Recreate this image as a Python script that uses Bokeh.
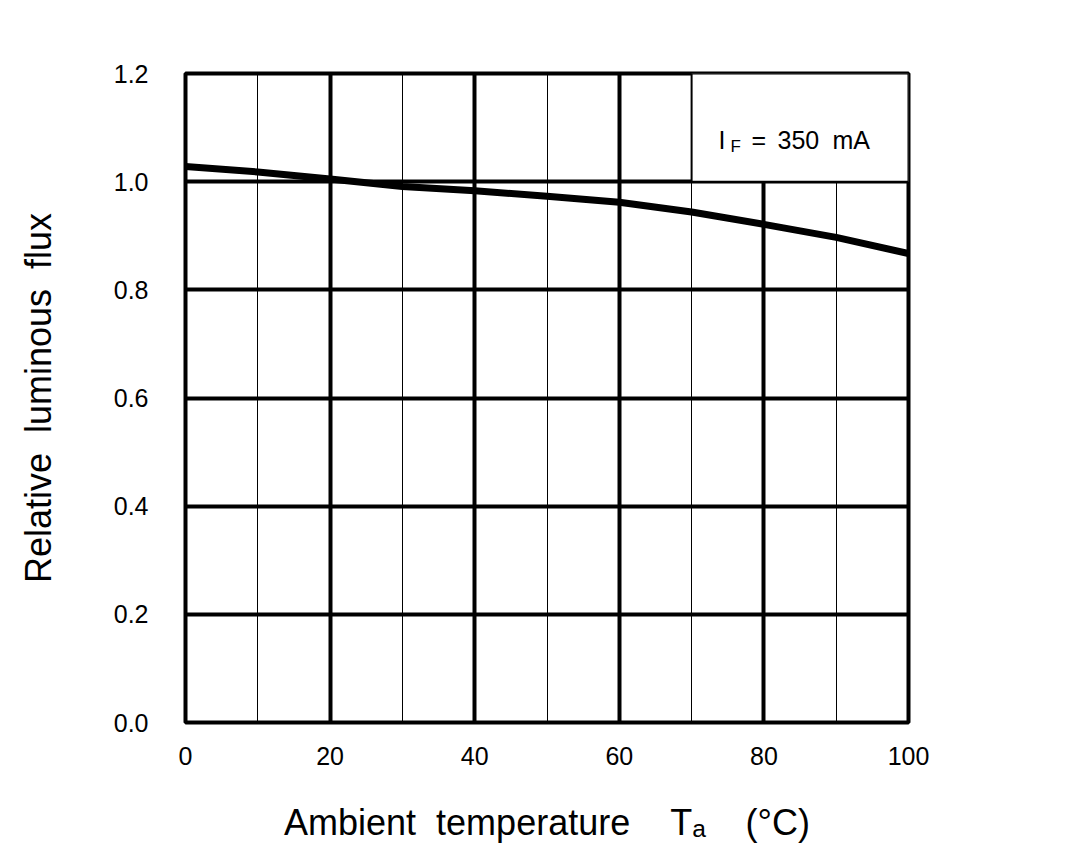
import math
from bokeh.plotting import figure
from bokeh.models import Range1d, FixedTicker, Label, CustomJSTickFormatter
from bokeh.embed import file_html
from bokeh.resources import INLINE

temps = [0, 10, 20, 30, 40, 50, 60, 70, 80, 90, 100]
flux = [1.028, 1.018, 1.005, 0.991, 0.983, 0.973, 0.962, 0.944, 0.921, 0.897, 0.867]
x_ticks = [0, 20, 40, 60, 80, 100]
x_minor = [10, 30, 50, 70, 90]
y_ticks = [0.0, 0.2, 0.4, 0.6, 0.8, 1.0, 1.2]
NB = "\u00a0"
x_title = "Ambient" + NB * 2 + "temperature" + NB * 4 + "T\u2090" + NB * 4 + "(\u00b0C)"
y_title = "Relative" + NB * 2 + "luminous" + NB * 2 + "flux"

FONT = "Liberation Sans"

FL, FT, FW, FH = 185, 73, 723, 649  # frame position in canvas px

p = figure(frame_width=FW, frame_height=FH, min_border_left=FL, min_border_right=164,
           min_border_top=FT, min_border_bottom=118,
           x_range=Range1d(0, 100), y_range=Range1d(0, 1.2),
           output_backend="svg", toolbar_location=None)
p.background_fill_color = "white"
p.border_fill_color = "white"
p.outline_line_color = "black"
p.outline_line_width = 4

p.xaxis.ticker = FixedTicker(ticks=x_ticks, minor_ticks=x_minor)
p.yaxis.ticker = FixedTicker(ticks=y_ticks)
p.yaxis.formatter = CustomJSTickFormatter(code="return tick.toFixed(1);")
for ax in (p.xaxis, p.yaxis):
    ax.axis_line_color = None
    ax.major_tick_line_color = None
    ax.minor_tick_line_color = None
    ax.major_label_text_font = FONT
    ax.major_label_text_font_size = "25px"
    ax.major_label_text_color = "black"
    ax.axis_label_text_font = FONT
    ax.axis_label_text_font_size = "36px"
    ax.axis_label_text_font_style = "normal"
    ax.axis_label_text_color = "black"
p.xaxis.major_label_standoff = 18
p.yaxis.major_label_standoff = 31
p.xaxis.axis_label = x_title
p.yaxis.axis_label = y_title
p.xaxis.axis_label_standoff = 34
p.yaxis.axis_label_standoff = 52

p.xgrid.grid_line_color = "black"
p.xgrid.grid_line_width = 4
p.xgrid.minor_grid_line_color = "black"
p.xgrid.minor_grid_line_width = 1
p.ygrid.grid_line_color = "black"
p.ygrid.grid_line_width = 4

# legend box
p.quad(left=[70], right=[100], bottom=[1.0], top=[1.2], fill_color="white",
       line_color="black", line_width=2)

p.line(temps, flux, line_color="black", line_width=7)


def px_x(px):
    return (px - FL) / FW * 100


def px_y(py):
    return (FT + FH - py) / FH * 1.2


def lab(txt, px, py, size, align="left", baseline="alphabetic"):
    p.add_layout(Label(x=px_x(px), y=px_y(py), text=txt, text_font=FONT,
                       text_font_size=size, text_align=align, text_baseline=baseline,
                       text_color="black"))


# legend text
lab("I", 718, 139, "25px")
lab("F", 730, 146, "17px")
lab("=", 751, 139, "25px")
lab("350", 777, 139, "25px")
lab("mA", 832, 139, "25px")

open("out.html", "w").write(file_html(p, INLINE))
